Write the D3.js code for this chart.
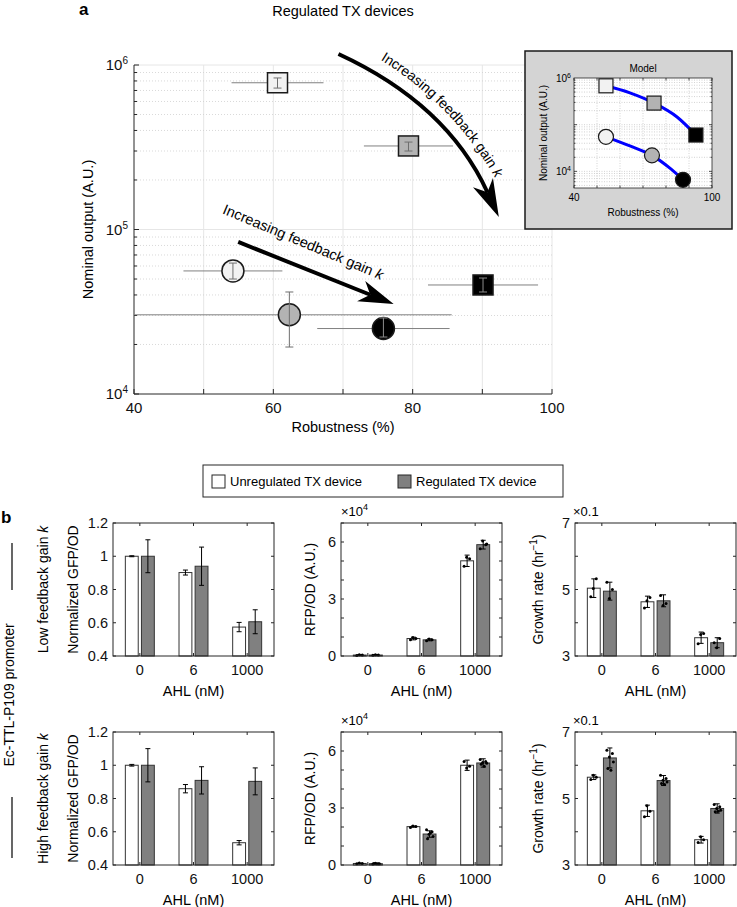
<!DOCTYPE html>
<html>
<head>
<meta charset="utf-8">
<script src="https://cdn.jsdelivr.net/npm/d3@7"></script>
<style>
  body { margin: 0; background: #fff; }
  svg { font-family: "Liberation Sans", Arial, sans-serif; }
</style>
</head>
<body>
<svg id="fig" width="737" height="907"></svg>
<script>
// ---------- panel a: measured devices ----------
const gainFills = ["#f2f2f2", "#b3b3b3", "#000000"];   // low, mid, high feedback gain

const sqRobust    = [60.6, 79.4, 90.1];
const sqRobustErr = [6.6, 6.4, 7.9];
const sqOutput    = [7.8e5, 3.22e5, 4.6e4];
const sqOutputLo  = [7.24e5, 3.0e5, 4.17e4];
const sqOutputHi  = [8.34e5, 3.4e5, 5.07e4];

const ciRobust    = [54.2, 62.3, 75.8];
const ciRobustErr = [7.1, 23.3, 9.5];
const ciOutput    = [5.6e4, 3.03e4, 2.5e4];
const ciOutputLo  = [5.0e4, 1.93e4, 2.22e4];
const ciOutputHi  = [6.25e4, 4.17e4, 2.9e4];

// annotation arrows (data coords): start, control, tip
const bigArrow     = [[69.35, 1.166e6], [84.9, 5.8e5], [92.37, 1.19e5]];
const bigArrowText = [[70.3, 1.40e6], [86.5, 6.7e5], [94.3, 1.30e5]];
const smallArrow   = [[54.96, 8.4e4], [77.27, 3.52e4]];
const smallArrowTextAt = [64.3, 8.4e4];

// inset: model
const modelSqRobust = [53.9, 74.8, 93.0];
const modelSqOutput = [6.8e5, 2.9e5, 6.0e4];
const modelCiRobust = [53.9, 73.9, 87.4];
const modelCiOutput = [5.5e4, 2.2e4, 6.6e3];
const modelSqCurve = [[53.9, 6.8e5], [64.3, 4.8e5], [74.8, 2.9e5], [84.8, 1.46e5], [93.0, 6.0e4]];
const modelCiCurve = [[53.9, 5.5e4], [64.3, 3.5e4], [73.9, 2.2e4], [81.7, 1.17e4], [87.4, 6.6e3]];

// ---------- panel b: bar charts ----------
const ahlLevels = ["0", "6", "1000"];

const gfpLowUnreg = [1.0, 0.902, 0.574],  gfpLowUnregErr = [0.003, 0.015, 0.028];
const gfpLowReg   = [1.0, 0.94, 0.606],   gfpLowRegErr   = [0.099, 0.115, 0.072];
const gfpHighUnreg = [1.0, 0.859, 0.534], gfpHighUnregErr = [0.005, 0.025, 0.013];
const gfpHighReg   = [1.0, 0.909, 0.903], gfpHighRegErr   = [0.1, 0.082, 0.081];

// RFP/OD in units of 1e4
const rfpLowUnreg = [0.05, 0.92, 5.01], rfpLowUnregErr = [0.02, 0.07, 0.3];
const rfpLowReg   = [0.05, 0.85, 5.86], rfpLowRegErr   = [0.02, 0.05, 0.23];
const rfpLowUnregDots = [[0.03, 0.05, 0.07], [0.85, 0.92, 0.98], [4.72, 5.12, 5.2]];
const rfpLowRegDots   = [[0.04, 0.05, 0.06], [0.8, 0.86, 0.9], [5.65, 5.85, 6.05, 5.9]];
const rfpHighUnreg = [0.08, 2.02, 5.25], rfpHighUnregErr = [0.02, 0.03, 0.27];
const rfpHighReg   = [0.07, 1.63, 5.37], rfpHighRegErr   = [0.02, 0.17, 0.22];
const rfpHighUnregDots = [[0.06, 0.08, 0.1], [1.98, 2.02, 2.05], [5.45, 5.2, 5.1]];
const rfpHighRegDots   = [[0.05, 0.07, 0.09, 0.06, 0.08, 0.07], [1.85, 1.75, 1.62, 1.5, 1.38, 1.7], [5.55, 5.45, 5.4, 5.35, 5.3, 5.2]];

// growth rate in units of 0.1 hr^-1
const grLowUnreg = [5.04, 4.63, 3.55], grLowUnregErr = [0.28, 0.17, 0.17];
const grLowReg   = [4.95, 4.66, 3.40], grLowRegErr   = [0.27, 0.18, 0.15];
const grLowUnregDots = [[4.78, 5.32, 5.03], [4.44, 4.76, 4.66], [3.37, 3.68, 3.65]];
const grLowRegDots   = [[5.22, 5.0, 4.73], [4.82, 4.58, 4.52], [3.40, 3.53, 3.25]];
const grHighUnreg = [5.64, 4.63, 3.76], grHighUnregErr = [0.07, 0.17, 0.1];
const grHighReg   = [6.22, 5.54, 4.70], grHighRegErr   = [0.3, 0.15, 0.14];
const grHighUnregDots = [[5.57, 5.64, 5.7], [4.45, 4.62, 4.78], [3.68, 3.76, 3.85]];
const grHighRegDots   = [[6.45, 6.35, 6.25, 6.1, 5.9, 5.85], [5.7, 5.6, 5.55, 5.5, 5.45, 5.42], [4.82, 4.75, 4.7, 4.65, 4.6, 4.62]];

const gfpTicks = [0.4, 0.6, 0.8, 1, 1.2];
const rfpTicks = [0, 1, 2, 3, 4, 5, 6, 7], rfpLabels = [0, 3, 6];
const grTicks  = [3, 4, 5, 6, 7],          grLabels  = [3, 5, 7];

// ---------------------------------------------------------------
const svg = d3.select("#fig");
const ink = "#262626";

function supLabel(sel, base, sup, supSize) {
  sel.append("tspan").text(base);
  sel.append("tspan").attr("dy", -6).attr("font-size", supSize).text(sup);
}

// ================= panel a =================
const xA = d3.scaleLinear().domain([40, 100]).range([134, 552]);
const yA = d3.scaleLog().domain([1e4, 1e6]).range([394, 65]);
const gA = svg.append("g");

const logMajors = [1e4, 1e5, 1e6];
const logAll = yA.ticks();
const logMinors = logAll.filter(d => !logMajors.includes(d));

// grid
gA.selectAll(".vgrid").data(xA.ticks(6).filter(d => d > 40)).enter().append("line")
  .attr("x1", d => xA(d)).attr("x2", d => xA(d))
  .attr("y1", yA(1e6)).attr("y2", yA(1e4))
  .attr("stroke", "#e6e6e6").attr("stroke-width", 1);
gA.selectAll(".hminor").data(logMinors).enter().append("line")
  .attr("x1", xA(40)).attr("x2", xA(100))
  .attr("y1", d => yA(d)).attr("y2", d => yA(d))
  .attr("stroke", "#cfcfcf").attr("stroke-width", 0.8).attr("stroke-dasharray", "1,2");
gA.selectAll(".hmajor").data([1e5, 1e6]).enter().append("line")
  .attr("x1", xA(40)).attr("x2", xA(100))
  .attr("y1", d => yA(d)).attr("y2", d => yA(d))
  .attr("stroke", "#e6e6e6").attr("stroke-width", 1);

// axes
gA.append("line").attr("x1", xA(40)).attr("x2", xA(40)).attr("y1", yA(1e6)).attr("y2", yA(1e4)).attr("stroke", ink);
gA.append("line").attr("x1", xA(40)).attr("x2", xA(100)).attr("y1", yA(1e4)).attr("y2", yA(1e4)).attr("stroke", ink);
gA.selectAll(".xt").data(xA.ticks(6)).enter().append("line")
  .attr("x1", d => xA(d)).attr("x2", d => xA(d))
  .attr("y1", yA(1e4)).attr("y2", yA(1e4) - 5).attr("stroke", ink);
gA.selectAll(".xl").data([40, 60, 80, 100]).enter().append("text")
  .attr("x", d => xA(d)).attr("y", yA(1e4) + 19)
  .attr("text-anchor", "middle").attr("font-size", 15).attr("fill", "#111").text(d => d);
gA.selectAll(".yt").data(logAll).enter().append("line")
  .attr("x1", xA(40)).attr("x2", d => xA(40) + (logMajors.includes(d) ? 5 : 3))
  .attr("y1", d => yA(d)).attr("y2", d => yA(d)).attr("stroke", ink);
logMajors.forEach(v => {
  const t = gA.append("text").attr("x", xA(40) - 6).attr("y", yA(v) + 5)
    .attr("text-anchor", "end").attr("font-size", 15).attr("fill", "#111");
  supLabel(t, "10", String(Math.round(Math.log10(v))), 10);
});

gA.append("text").attr("x", (xA(40) + xA(100)) / 2).attr("y", 432)
  .attr("text-anchor", "middle").attr("font-size", 14.5).text("Robustness (%)");
gA.append("text").attr("transform", `translate(93,${(yA(1e6) + yA(1e4)) / 2}) rotate(-90)`)
  .attr("text-anchor", "middle").attr("font-size", 14.5).text("Nominal output (A.U.)");
gA.append("text").attr("x", (xA(40) + xA(100)) / 2).attr("y", 16)
  .attr("text-anchor", "middle").attr("font-size", 14.5).text("Regulated TX devices");
svg.append("text").attr("x", 79).attr("y", 15).attr("font-size", 17).attr("font-weight", "bold").text("a");

// error bars + markers
function drawMeasured(rob, robErr, out, lo, hi, shape) {
  rob.forEach((r, i) => {
    gA.append("line")
      .attr("x1", xA(Math.max(40, r - robErr[i]))).attr("x2", xA(r + robErr[i]))
      .attr("y1", yA(out[i])).attr("y2", yA(out[i]))
      .attr("stroke", "#808080").attr("stroke-width", 1);
  });
  rob.forEach((r, i) => {
    const cx = xA(r), cy = yA(out[i]);
    if (shape === "square") {
      gA.append("rect").attr("x", cx - 10).attr("y", cy - 10).attr("width", 20).attr("height", 20)
        .attr("fill", gainFills[i]).attr("stroke", "#1a1a1a").attr("stroke-width", 1.5);
    } else {
      gA.append("circle").attr("cx", cx).attr("cy", cy).attr("r", 11)
        .attr("fill", gainFills[i]).attr("stroke", "#1a1a1a").attr("stroke-width", 1.5);
    }
    const eb = gA.append("g").attr("stroke", i === 2 ? "#8c8c8c" : "#6e6e6e").attr("stroke-width", 1);
    eb.append("line").attr("x1", cx).attr("x2", cx).attr("y1", yA(lo[i])).attr("y2", yA(hi[i]));
    [lo[i], hi[i]].forEach(v => eb.append("line").attr("x1", cx - 4).attr("x2", cx + 4)
      .attr("y1", yA(v)).attr("y2", yA(v)));
  });
}
drawMeasured(sqRobust, sqRobustErr, sqOutput, sqOutputLo, sqOutputHi, "square");
drawMeasured(ciRobust, ciRobustErr, ciOutput, ciOutputLo, ciOutputHi, "circle");

// arrows
function headPath(tip, dir, L, w) {
  const n = [-dir[1], dir[0]];
  const b = [tip[0] - L * dir[0], tip[1] - L * dir[1]];
  const notch = [tip[0] - 0.72 * L * dir[0], tip[1] - 0.72 * L * dir[1]];
  return `M${tip[0]},${tip[1]}L${b[0] + w * n[0]},${b[1] + w * n[1]}L${notch[0]},${notch[1]}` +
         `L${b[0] - w * n[0]},${b[1] - w * n[1]}Z`;
}
const px = p => [xA(p[0]), yA(p[1])];
const unit = (a, b) => { const dx = b[0] - a[0], dy = b[1] - a[1], l = Math.hypot(dx, dy); return [dx / l, dy / l]; };

{ // curved arrow
  const [p0, c, p2] = bigArrow.map(px);
  const d = unit(c, p2);
  const end = [p2[0] - 0.72 * 38 * d[0], p2[1] - 0.72 * 38 * d[1]];
  gA.append("path").attr("d", `M${p0}Q${c} ${end}`).attr("fill", "none")
    .attr("stroke", "#000").attr("stroke-width", 4);
  gA.append("path").attr("d", headPath(p2, d, 38, 11)).attr("fill", "#000");
  const [t0, tc, t2] = bigArrowText.map(px);
  svg.append("defs").append("path").attr("id", "bigArrowTextPath").attr("d", `M${t0}Q${tc} ${t2}`);
  const tx = gA.append("text").attr("font-size", 14).append("textPath")
    .attr("href", "#bigArrowTextPath").attr("startOffset", 40);
  tx.append("tspan").text("Increasing feedback gain ");
  tx.append("tspan").attr("font-style", "italic").text("k");
}
{ // straight arrow
  const [s, t] = smallArrow.map(px);
  const d = unit(s, t);
  gA.append("line").attr("x1", s[0]).attr("y1", s[1])
    .attr("x2", t[0] - 0.72 * 35 * d[0]).attr("y2", t[1] - 0.72 * 35 * d[1])
    .attr("stroke", "#000").attr("stroke-width", 4);
  gA.append("path").attr("d", headPath(t, d, 35, 11)).attr("fill", "#000");
  const ang = Math.atan2(d[1], d[0]) * 180 / Math.PI + 1;
  const c = px(smallArrowTextAt);
  const tx = gA.append("text").attr("transform", `translate(${c}) rotate(${ang})`)
    .attr("text-anchor", "middle").attr("dominant-baseline", "central").attr("font-size", 14.5);
  tx.append("tspan").text("Increasing feedback gain ");
  tx.append("tspan").attr("font-style", "italic").text("k");
}

// inset
{
  const gI = svg.append("g");
  gI.append("rect").attr("x", 525).attr("y", 51).attr("width", 207).attr("height", 178)
    .attr("fill", "#d4d4d4").attr("stroke", "#1a1a1a").attr("stroke-width", 1.5);
  const xI = d3.scaleLinear().domain([40, 100]).range([574, 712]);
  const yI = d3.scaleLog().domain([4.4e3, 1e6]).range([188, 78]);
  gI.append("rect").attr("x", xI(40)).attr("y", yI(1e6)).attr("width", xI(100) - xI(40))
    .attr("height", yI(4.4e3) - yI(1e6)).attr("fill", "#fff");
  const yTicksI = yI.ticks().filter(d => d > 4.4e3 && d < 1e6);
  gI.selectAll(".vg").data(xI.ticks(6).filter(d => d > 40 && d < 100)).enter().append("line")
    .attr("x1", d => xI(d)).attr("x2", d => xI(d)).attr("y1", yI(1e6)).attr("y2", yI(4.4e3))
    .attr("stroke", "#b5b5b5").attr("stroke-width", 0.6).attr("stroke-dasharray", "1,1.5");
  gI.selectAll(".hg").data(yTicksI).enter().append("line")
    .attr("x1", xI(40)).attr("x2", xI(100)).attr("y1", d => yI(d)).attr("y2", d => yI(d))
    .attr("stroke", "#b5b5b5").attr("stroke-width", 0.6).attr("stroke-dasharray", "1,1.5");
  gI.append("rect").attr("x", xI(40)).attr("y", yI(1e6)).attr("width", xI(100) - xI(40))
    .attr("height", yI(4.4e3) - yI(1e6)).attr("fill", "none").attr("stroke", ink).attr("stroke-width", 0.8);
  xI.ticks(6).forEach(v => {
    [[yI(4.4e3), -2.5], [yI(1e6), 2.5]].forEach(([y0, dl]) =>
      gI.append("line").attr("x1", xI(v)).attr("x2", xI(v)).attr("y1", y0).attr("y2", y0 + dl)
        .attr("stroke", ink).attr("stroke-width", 0.8));
  });
  yTicksI.forEach(v => {
    const len = [1e4, 1e5].includes(v) ? 3 : 1.5;
    gI.append("line").attr("x1", xI(40)).attr("x2", xI(40) + len).attr("y1", yI(v)).attr("y2", yI(v)).attr("stroke", ink).attr("stroke-width", 0.8);
    gI.append("line").attr("x1", xI(100)).attr("x2", xI(100) - len).attr("y1", yI(v)).attr("y2", yI(v)).attr("stroke", ink).attr("stroke-width", 0.8);
  });
  const line = d3.line().x(d => xI(d[0])).y(d => yI(d[1])).curve(d3.curveMonotoneX);
  [modelSqCurve, modelCiCurve].forEach(c => gI.append("path").attr("d", line(c))
    .attr("fill", "none").attr("stroke", "#0000ff").attr("stroke-width", 3));
  modelSqRobust.forEach((r, i) => gI.append("rect")
    .attr("x", xI(r) - 7).attr("y", yI(modelSqOutput[i]) - 7).attr("width", 14).attr("height", 14)
    .attr("fill", gainFills[i]).attr("stroke", "#1a1a1a").attr("stroke-width", 1.2));
  modelCiRobust.forEach((r, i) => gI.append("circle")
    .attr("cx", xI(r)).attr("cy", yI(modelCiOutput[i])).attr("r", 7.5)
    .attr("fill", gainFills[i]).attr("stroke", "#1a1a1a").attr("stroke-width", 1.2));
  gI.selectAll(".ixl").data([40, 100]).enter().append("text")
    .attr("x", d => xI(d)).attr("y", 201).attr("text-anchor", "middle").attr("font-size", 10).text(d => d);
  [1e6, 1e4].forEach(v => {
    const t = gI.append("text").attr("x", xI(40) - 3).attr("y", yI(v) + 4)
      .attr("text-anchor", "end").attr("font-size", 10);
    supLabel(t, "10", String(Math.round(Math.log10(v))), 7);
    t.select("tspan:last-child").attr("dy", -4);
  });
  gI.append("text").attr("x", (xI(40) + xI(100)) / 2).attr("y", 216).attr("text-anchor", "middle")
    .attr("font-size", 10).text("Robustness (%)");
  gI.append("text").attr("x", (xI(40) + xI(100)) / 2).attr("y", 72).attr("text-anchor", "middle")
    .attr("font-size", 10).text("Model");
  gI.append("text").attr("transform", `translate(547,${(yI(1e6) + yI(4.4e3)) / 2}) rotate(-90)`)
    .attr("text-anchor", "middle").attr("font-size", 10).text("Nominal output (A.U.)");
}

// ================= legend =================
{
  const gL = svg.append("g");
  gL.append("rect").attr("x", 203).attr("y", 465).attr("width", 360).attr("height", 32)
    .attr("fill", "#fff").attr("stroke", ink).attr("stroke-width", 1);
  [["Unregulated TX device", "#ffffff", 212], ["Regulated TX device", "#808080", 398]].forEach(([lab, f, x0]) => {
    gL.append("rect").attr("x", x0).attr("y", 475).attr("width", 13).attr("height", 13)
      .attr("fill", f).attr("stroke", ink).attr("stroke-width", 1);
    gL.append("text").attr("x", x0 + 18).attr("y", 486).attr("font-size", 13).text(lab);
  });
}

// ================= panel b =================
svg.append("text").attr("x", 1).attr("y", 523).attr("font-size", 17).attr("font-weight", "bold").text("b");

const panelCols = [113, 341, 575];
const panelRows = [523, 732];
const panelW = 161, panelH = 133;
const jitter = [-3, 2.5, -0.5, 3.5, -2, 1];

function barPanel(col, row, yDomain, ticks, labels, unreg, unregErr, reg, regErr, unregDots, regDots) {
  const left = panelCols[col], top = panelRows[row];
  const g = svg.append("g");
  const x = d3.scaleLinear().domain([0.5, 3.5]).range([left, left + panelW]);
  const y = d3.scaleLinear().domain(yDomain).range([top + panelH, top]);
  const bw = 0.24, off = 0.15;
  [[unreg, unregErr, unregDots, "#ffffff", -1], [reg, regErr, regDots, "#808080", 1]].forEach(([vals, errs, dots, fill, s]) => {
    vals.forEach((v, i) => {
      const xc = i + 1 + s * off;
      g.append("rect").attr("x", x(xc - bw / 2)).attr("width", x(xc + bw / 2) - x(xc - bw / 2))
        .attr("y", y(v)).attr("height", y(yDomain[0]) - y(v))
        .attr("fill", fill).attr("stroke", "#333").attr("stroke-width", 1);
    });
    vals.forEach((v, i) => {
      const cx = x(i + 1 + s * off);
      const e = g.append("g").attr("stroke", "#000").attr("stroke-width", 1);
      e.append("line").attr("x1", cx).attr("x2", cx).attr("y1", y(v - errs[i])).attr("y2", y(v + errs[i]));
      [v - errs[i], v + errs[i]].forEach(w => e.append("line").attr("x1", cx - 2.5).attr("x2", cx + 2.5)
        .attr("y1", y(w)).attr("y2", y(w)));
      if (dots) dots[i].forEach((d, k) => g.append("circle")
        .attr("cx", cx + jitter[k % jitter.length]).attr("cy", y(d)).attr("r", 1.5).attr("fill", "#000"));
    });
  });
  g.append("rect").attr("x", left).attr("y", top).attr("width", panelW).attr("height", panelH)
    .attr("fill", "none").attr("stroke", ink).attr("stroke-width", 1);
  ticks.forEach(t => {
    g.append("line").attr("x1", left).attr("x2", left + 3).attr("y1", y(t)).attr("y2", y(t)).attr("stroke", ink);
    g.append("line").attr("x1", left + panelW).attr("x2", left + panelW - 3).attr("y1", y(t)).attr("y2", y(t)).attr("stroke", ink);
  });
  labels.forEach(t => g.append("text").attr("x", left - 5).attr("y", y(t) + 5)
    .attr("text-anchor", "end").attr("font-size", 14.5).attr("fill", "#111").text(t));
  ahlLevels.forEach((c, i) => {
    g.append("line").attr("x1", x(i + 1)).attr("x2", x(i + 1)).attr("y1", top + panelH).attr("y2", top + panelH - 3).attr("stroke", ink);
    g.append("line").attr("x1", x(i + 1)).attr("x2", x(i + 1)).attr("y1", top).attr("y2", top + 3).attr("stroke", ink);
    g.append("text").attr("x", x(i + 1)).attr("y", top + panelH + 19).attr("text-anchor", "middle")
      .attr("font-size", 14.5).attr("fill", "#111").text(c);
  });
  g.append("text").attr("x", left + panelW / 2).attr("y", top + panelH + 40).attr("text-anchor", "middle")
    .attr("font-size", 14.5).text("AHL (nM)");
  return g;
}

function yLabel(x, row, build) {
  const t = svg.append("text").attr("transform", `translate(${x},${panelRows[row] + panelH / 2}) rotate(-90)`)
    .attr("text-anchor", "middle").attr("font-size", 14);
  build(t);
}

[0, 1].forEach(row => {
  const high = row === 1;
  barPanel(0, row, [0.4, 1.2], gfpTicks, gfpTicks,
    high ? gfpHighUnreg : gfpLowUnreg, high ? gfpHighUnregErr : gfpLowUnregErr,
    high ? gfpHighReg : gfpLowReg, high ? gfpHighRegErr : gfpLowRegErr, null, null);
  barPanel(1, row, [0, 7], rfpTicks, rfpLabels,
    high ? rfpHighUnreg : rfpLowUnreg, high ? rfpHighUnregErr : rfpLowUnregErr,
    high ? rfpHighReg : rfpLowReg, high ? rfpHighRegErr : rfpLowRegErr,
    high ? rfpHighUnregDots : rfpLowUnregDots, high ? rfpHighRegDots : rfpLowRegDots);
  barPanel(2, row, [3, 7], grTicks, grLabels,
    high ? grHighUnreg : grLowUnreg, high ? grHighUnregErr : grLowUnregErr,
    high ? grHighReg : grLowReg, high ? grHighRegErr : grLowRegErr,
    high ? grHighUnregDots : grLowUnregDots, high ? grHighRegDots : grLowRegDots);

  yLabel(78, row, t => t.text("Normalized GFP/OD"));
  yLabel(315, row, t => t.text("RFP/OD (A.U.)"));
  yLabel(543, row, t => {
    t.append("tspan").text("Growth rate (hr");
    t.append("tspan").attr("dy", -6).attr("font-size", 10).text("\u22121");
    t.append("tspan").attr("dy", 6).text(")");
  });
  yLabel(48, row, t => {
    t.append("tspan").text(high ? "High feedback gain " : "Low feedback gain ");
    t.append("tspan").attr("font-style", "italic").text("k");
  });
  const s1 = svg.append("text").attr("x", panelCols[1]).attr("y", panelRows[row] - 7).attr("font-size", 13);
  supLabel(s1, "\u00d710", "4", 9);
  svg.append("text").attr("x", panelCols[2] - 2).attr("y", panelRows[row] - 7).attr("font-size", 13).text("\u00d70.1");
});

// row group label
svg.append("text").attr("transform", "translate(14,695) rotate(-90)").attr("text-anchor", "middle")
  .attr("font-size", 14).text("Ec-TTL-P109 promoter");
[[543, 590], [797, 858]].forEach(([a, b]) => svg.append("line")
  .attr("x1", 12).attr("x2", 12).attr("y1", a).attr("y2", b).attr("stroke", "#000").attr("stroke-width", 1.2));
</script>
</body>
</html>
